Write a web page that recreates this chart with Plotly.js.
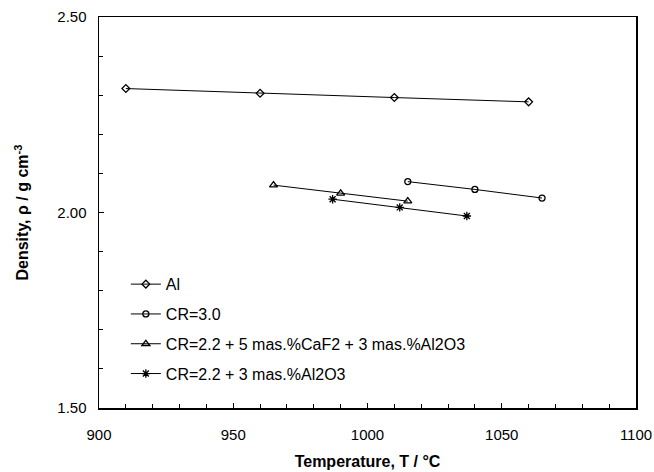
<!DOCTYPE html>
<html>
<head>
<meta charset="utf-8">
<script src="https://cdn.plot.ly/plotly-3.0.1.min.js"></script>
<style>html,body{margin:0;padding:0;background:#fff;}#chart{width:654px;height:472px;}</style>
</head>
<body>
<div id="chart"></div>
<script>
const seriesNames = ["Al", "CR=3.0", "CR=2.2 + 5 mas.%CaF2 + 3 mas.%Al2O3", "CR=2.2 + 3 mas.%Al2O3"];
const alT = [910, 960, 1010, 1060];
const alRho = [2.317, 2.305, 2.294, 2.283];
const cr30T = [1015, 1040, 1065];
const cr30Rho = [2.079, 2.059, 2.037];
const caf2T = [965, 990, 1015];
const caf2Rho = [2.070, 2.049, 2.029];
const al2o3T = [987, 1012, 1037];
const al2o3Rho = [2.034, 2.013, 1.991];
const symbols = ["diamond-open", "circle-open", "triangle-up-open", "asterisk-open"];

const xs = [alT, cr30T, caf2T, al2o3T];
const ys = [alRho, cr30Rho, caf2Rho, al2o3Rho];
const sizes = [6, 6, 7, 7];

const traces = seriesNames.map((n, i) => ({
  x: xs[i], y: ys[i], name: n, type: 'scatter', mode: 'lines+markers',
  legendgroup: 'g' + i,
  line: {color: '#000', width: 1},
  marker: {symbol: symbols[i], size: sizes[i], color: '#000', line: {color: '#000', width: 1.3}}
}));

const layout = {
  width: 654, height: 472,
  margin: {l: 99, r: 18, t: 17, b: 64},
  paper_bgcolor: '#fff', plot_bgcolor: '#fff',
  font: {family: 'Liberation Sans, Arial, sans-serif', color: '#000', size: 15},
  showlegend: true,
  legend: {x: 0.05, y: 0.36, xanchor: 'left', yanchor: 'top', bgcolor: 'rgba(0,0,0,0)',
           font: {size: 16}, traceorder: 'grouped', tracegroupgap: 6, itemwidth: 30},
  xaxis: {
    range: [900, 1100], dtick: 50, tick0: 900, ticks: 'inside', ticklen: 5, tickwidth: 1,
    tickcolor: '#000', showgrid: false, zeroline: false, showline: true, linecolor: '#000',
    linewidth: 1.5, mirror: true, tickfont: {size: 15}, ticklabelstandoff: 12,
    minor: {dtick: 10, ticks: 'inside', ticklen: 4, tickcolor: '#000', showgrid: false},
    title: {text: '<b>Temperature, T / °C</b>', font: {size: 16}, standoff: 14}
  },
  yaxis: {
    range: [1.5, 2.5], dtick: 0.5, tick0: 1.5, tickformat: '.2f', ticks: 'inside', ticklen: 5,
    tickwidth: 1, tickcolor: '#000', showgrid: false, zeroline: false, showline: true,
    linecolor: '#000', linewidth: 1.5, mirror: true, tickfont: {size: 15}, ticklabelstandoff: 8,
    minor: {dtick: 0.1, ticks: 'inside', ticklen: 4, tickcolor: '#000', showgrid: false},
    title: {text: '<b>Density, ρ / g cm<sup>-3</sup></b>', font: {size: 16}, standoff: 24}
  }
};

Plotly.newPlot('chart', traces, layout, {displayModeBar: false, staticPlot: true});
</script>
</body>
</html>
